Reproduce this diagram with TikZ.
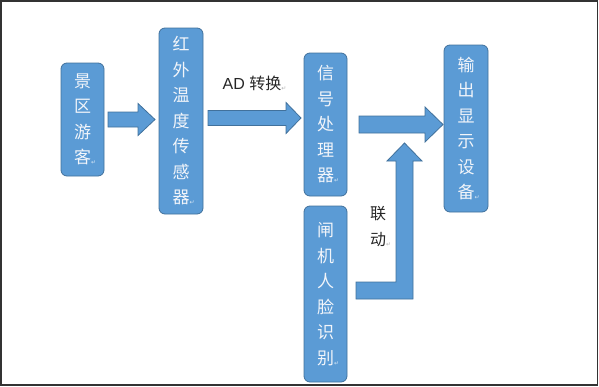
\documentclass[tikz,border=0pt]{standalone}
\usepackage{fontspec}
\setmainfont{Liberation Sans}
\newfontfamily\cjk{Noto Sans CJK SC}
\newfontfamily\dvs{DejaVu Sans}
\usetikzlibrary{calc}
\definecolor{boxfill}{HTML}{5B9BD5}
\definecolor{boxline}{HTML}{41719C}
\definecolor{frame}{HTML}{333333}
\definecolor{txtlight}{HTML}{F2F5FA}
\newcommand\retmark[1]{\rlap{\raisebox{-1pt}{\dvs\fontsize{6}{6}\selectfont\color{#1}↵}}}
\newcommand\hblk[5]{\path[blk] ($(#1)+(0,-#3)$) -- ($(#2)+(-#5,-#3)$) -- ($(#2)+(-#5,-#4)$) -- (#2) -- ($(#2)+(-#5,#4)$) -- ($(#2)+(-#5,#3)$) -- ($(#1)+(0,#3)$) -- cycle;}
\tikzset{
  vbox/.style={draw=boxline, fill=boxfill, line width=0.8pt, rounded corners=6pt,
    inner sep=0pt, align=center, text=txtlight,
    font=\cjk\fontsize{17}{25.5}\selectfont},
  blk/.style={draw=boxline, fill=boxfill, line width=0.8pt},
  lbl/.style={inner sep=0pt, text=black!85}
}
\begin{document}
\begin{tikzpicture}[x=1pt,y=-1pt]
\useasboundingbox (0,0) rectangle (599,386);
\draw[frame, line width=1.6pt] (0.8,0.8) rectangle (597.4,384.9);

\node[vbox, minimum width=43pt, minimum height=113pt] (b1) at (82.5,119.5) {景\\区\\游\\客\retmark{white!75!boxfill}};
\node[vbox, minimum width=44pt, minimum height=186pt] (b2) at (181,121) {红\\外\\温\\度\\传\\感\\器\retmark{white!75!boxfill}};
\node[vbox, minimum width=43pt, minimum height=143pt] (b3) at (325.5,124.5) {信\\号\\处\\理\\器\retmark{white!75!boxfill}};
\node[vbox, minimum width=44pt, minimum height=167pt] (b4) at (466,128.5) {输\\出\\显\\示\\设\\备\retmark{white!75!boxfill}};
\node[vbox, minimum width=43pt, minimum height=176pt] (b5) at (325.5,294) {闸\\机\\人\\脸\\识\\别\retmark{white!75!boxfill}};

% straight block arrows
\coordinate (a1s) at (108,119.5); \coordinate (a1t) at (155,119.5);
\coordinate (a2s) at (208,118);   \coordinate (a2t) at (301,118);
\coordinate (a3s) at (359,124.5); \coordinate (a3t) at (443,124.5);
\hblk{a1s}{a1t}{7.5}{16}{17}
\hblk{a2s}{a2t}{7.5}{15.5}{15}
\hblk{a3s}{a3t}{8.5}{17.5}{18}

% bent block arrow from face recognition up to the main line
\coordinate (bs) at (356,290.5);
\coordinate (bk) at (404.5,290.5);
\coordinate (bt) at (404.5,143);
\path[blk] ($(bs)+(0,-8.5)$) -- ($(bk)+(-8.5,-8.5)$) -- ($(bt)+(-8.5,18)$) -- ($(bt)+(-17.5,18)$) -- (bt) -- ($(bt)+(17.5,18)$) -- ($(bt)+(8.5,18)$) -- ($(bk)+(8.5,8.5)$) -- ($(bs)+(0,8.5)$) -- cycle;

\node[lbl, font=\fontsize{16}{18}\selectfont] (ad) at (252,83) {AD {\cjk 转换}\retmark{gray!60}};
\node[lbl, align=center, font=\cjk\fontsize{16}{26}\selectfont] (ld) at (378,227) {联\\动\retmark{gray!60}};
\end{tikzpicture}
\end{document}
